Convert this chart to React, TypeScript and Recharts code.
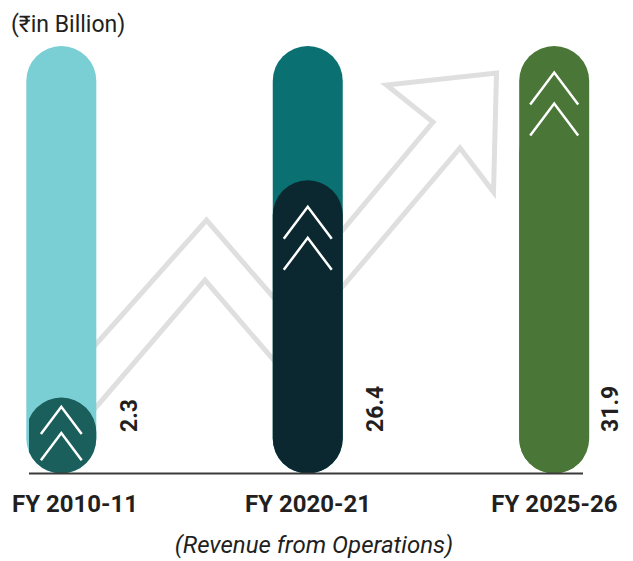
import { BarChart, Bar, XAxis, YAxis, Cell, LabelList } from "recharts";

// Revenue from Operations, ₹ in Billion
const CATEGORIES = ["FY 2010-11", "FY 2020-21", "FY 2025-26"];
const REVENUE = [2.3, 26.4, 31.9];

const BAR_COLORS = ["#1b5f5d", "#0b2831", "#4a7737"];
const TRACK_COLORS = ["#79cfd3", "#0a7072", "#4a7737"];
const INK = "#231f20";
const FONT = "Roboto, 'Noto Sans', sans-serif";

const CHART_W = 617;

// decorative zig-zag arrow drawn behind the bars (page coordinates)
const ARROW_OUTLINE = [
  [50, 396], [206.5, 220], [280, 305], [433, 122], [386.5, 85], [496.5, 73],
  [493.5, 192], [460, 148], [277, 364], [205, 280], [50, 461],
];

const rows = CATEGORIES.map((name, i) => ({ pos: i, name, value: REVENUE[i] }));

let measureCtx: CanvasRenderingContext2D | null = null;
function textWidth(s: string, font: string) {
  if (!measureCtx) measureCtx = document.createElement("canvas").getContext("2d");
  if (!measureCtx) return s.length * 12;
  measureCtx.font = font;
  return measureCtx.measureText(s).width;
}

function pillPath(x: number, y: number, w: number, h: number) {
  const rx = w / 2;
  const ry = Math.min(rx, h / 2);
  return `M${x},${y + ry} A${rx},${ry} 0 0 1 ${x + w},${y + ry} L${x + w},${y + h - ry} A${rx},${ry} 0 0 1 ${x},${y + h - ry} Z`;
}

// eslint-disable-next-line @typescript-eslint/no-explicit-any
function Track(props: any) {
  const { x, y, width, height, index } = props;
  return <path d={pillPath(x, y, width, height)} fill={TRACK_COLORS[index]} />;
}

// eslint-disable-next-line @typescript-eslint/no-explicit-any
function Pill(props: any) {
  const { x, y, width, height, fill, index, background } = props;
  // chevrons sit at the top of the visible colour block
  const top = background && fill === TRACK_COLORS[index] ? background.y : y;
  const compact = height < width * 1.5;
  const k = compact ? 0.85 : 1;
  const hw = 24 * k;
  const ch = 32 * k;
  const gap = 31 * k;
  const apex = compact ? y + (height - (gap + ch)) / 2 - 2 : top + 26.5;
  const cx = x + width / 2;
  const chevron = (a: number) => `M${cx - hw},${a + ch} L${cx},${a} L${cx + hw},${a + ch}`;
  return (
    <g>
      <path d={pillPath(x, y, width, height)} fill={fill} />
      <path d={chevron(apex) + " " + chevron(apex + gap)} fill="none" stroke="#fff" strokeWidth={2.5} />
    </g>
  );
}

// eslint-disable-next-line @typescript-eslint/no-explicit-any
function ValueLabel(props: any) {
  const vb = props.viewBox ?? props;
  const { x, y, width, height } = vb;
  // keep the rotated label inside the frame
  const cx = Math.min(x + width + 33, CHART_W - 15);
  const by = y + height - 41.5;
  return (
    <text
      x={cx}
      y={by}
      transform={`rotate(-90 ${cx} ${by})`}
      textAnchor="start"
      dominantBaseline="central"
      fontFamily={FONT}
      fontWeight={700}
      fontSize={23}
      fill={INK}
    >
      {Number(props.value).toFixed(1)}
    </text>
  );
}

// eslint-disable-next-line @typescript-eslint/no-explicit-any
function CategoryTick(props: any) {
  const { x, y, payload } = props;
  const label = CATEGORIES[payload.value] ?? "";
  const w = textWidth(label, `700 24px ${FONT}`);
  // keep the label inside the frame
  const cx = Math.max(x, 4 + w / 2);
  return (
    <text x={cx} y={y + 36} textAnchor="middle" fontFamily={FONT} fontWeight={700} fontSize={24} fill={INK}>
      {label}
    </text>
  );
}

export default function App() {
  return (
    <div style={{ position: "relative", width: CHART_W, height: 553, fontFamily: FONT, color: INK }}>
      <svg width={CHART_W} height={553} style={{ position: "absolute", left: 0, top: 0 }}>
        <g transform="translate(-8,-8)">
          <polygon
            points={ARROW_OUTLINE.map((p) => p.join(",")).join(" ")}
            fill="none"
            stroke="#dfdfdf"
            strokeWidth={5}
          />
        </g>
      </svg>

      <div style={{ position: "absolute", left: 3, top: 4, fontSize: 23, lineHeight: "26px" }}>(₹in Billion)</div>

      <div style={{ position: "absolute", left: 0, top: 0 }}>
        <BarChart width={CHART_W} height={510} data={rows} margin={{ top: 38, right: 42, bottom: 4.5, left: 21 }}>
          <XAxis
            dataKey="pos"
            type="number"
            domain={[-0.132, 2.116]}
            ticks={[0, 1, 2]}
            allowDataOverflow
            axisLine={{ stroke: "#3a3a3a", strokeWidth: 2 }}
            tickLine={false}
            tickSize={0}
            height={40}
            interval={0}
            tick={<CategoryTick />}
          />
          <YAxis hide domain={[0, 38.5]} allowDataOverflow />
          <Bar
            dataKey="value"
            barSize={70}
            minPointSize={76}
            isAnimationActive={false}
            background={(p: any) => <Track key={`t${p.index}`} {...p} />}
            shape={(p: any) => <Pill {...p} />}
          >
            {rows.map((r, i) => (
              <Cell key={r.name} fill={BAR_COLORS[i]} />
            ))}
            <LabelList dataKey="value" content={(p: any) => <ValueLabel {...p} />} />
          </Bar>
        </BarChart>
      </div>

      <div
        style={{
          position: "absolute",
          left: 0,
          width: 612,
          top: 524,
          textAlign: "center",
          fontSize: 24,
          fontStyle: "italic",
          lineHeight: "26px",
        }}
      >
        (Revenue from Operations)
      </div>
    </div>
  );
}
